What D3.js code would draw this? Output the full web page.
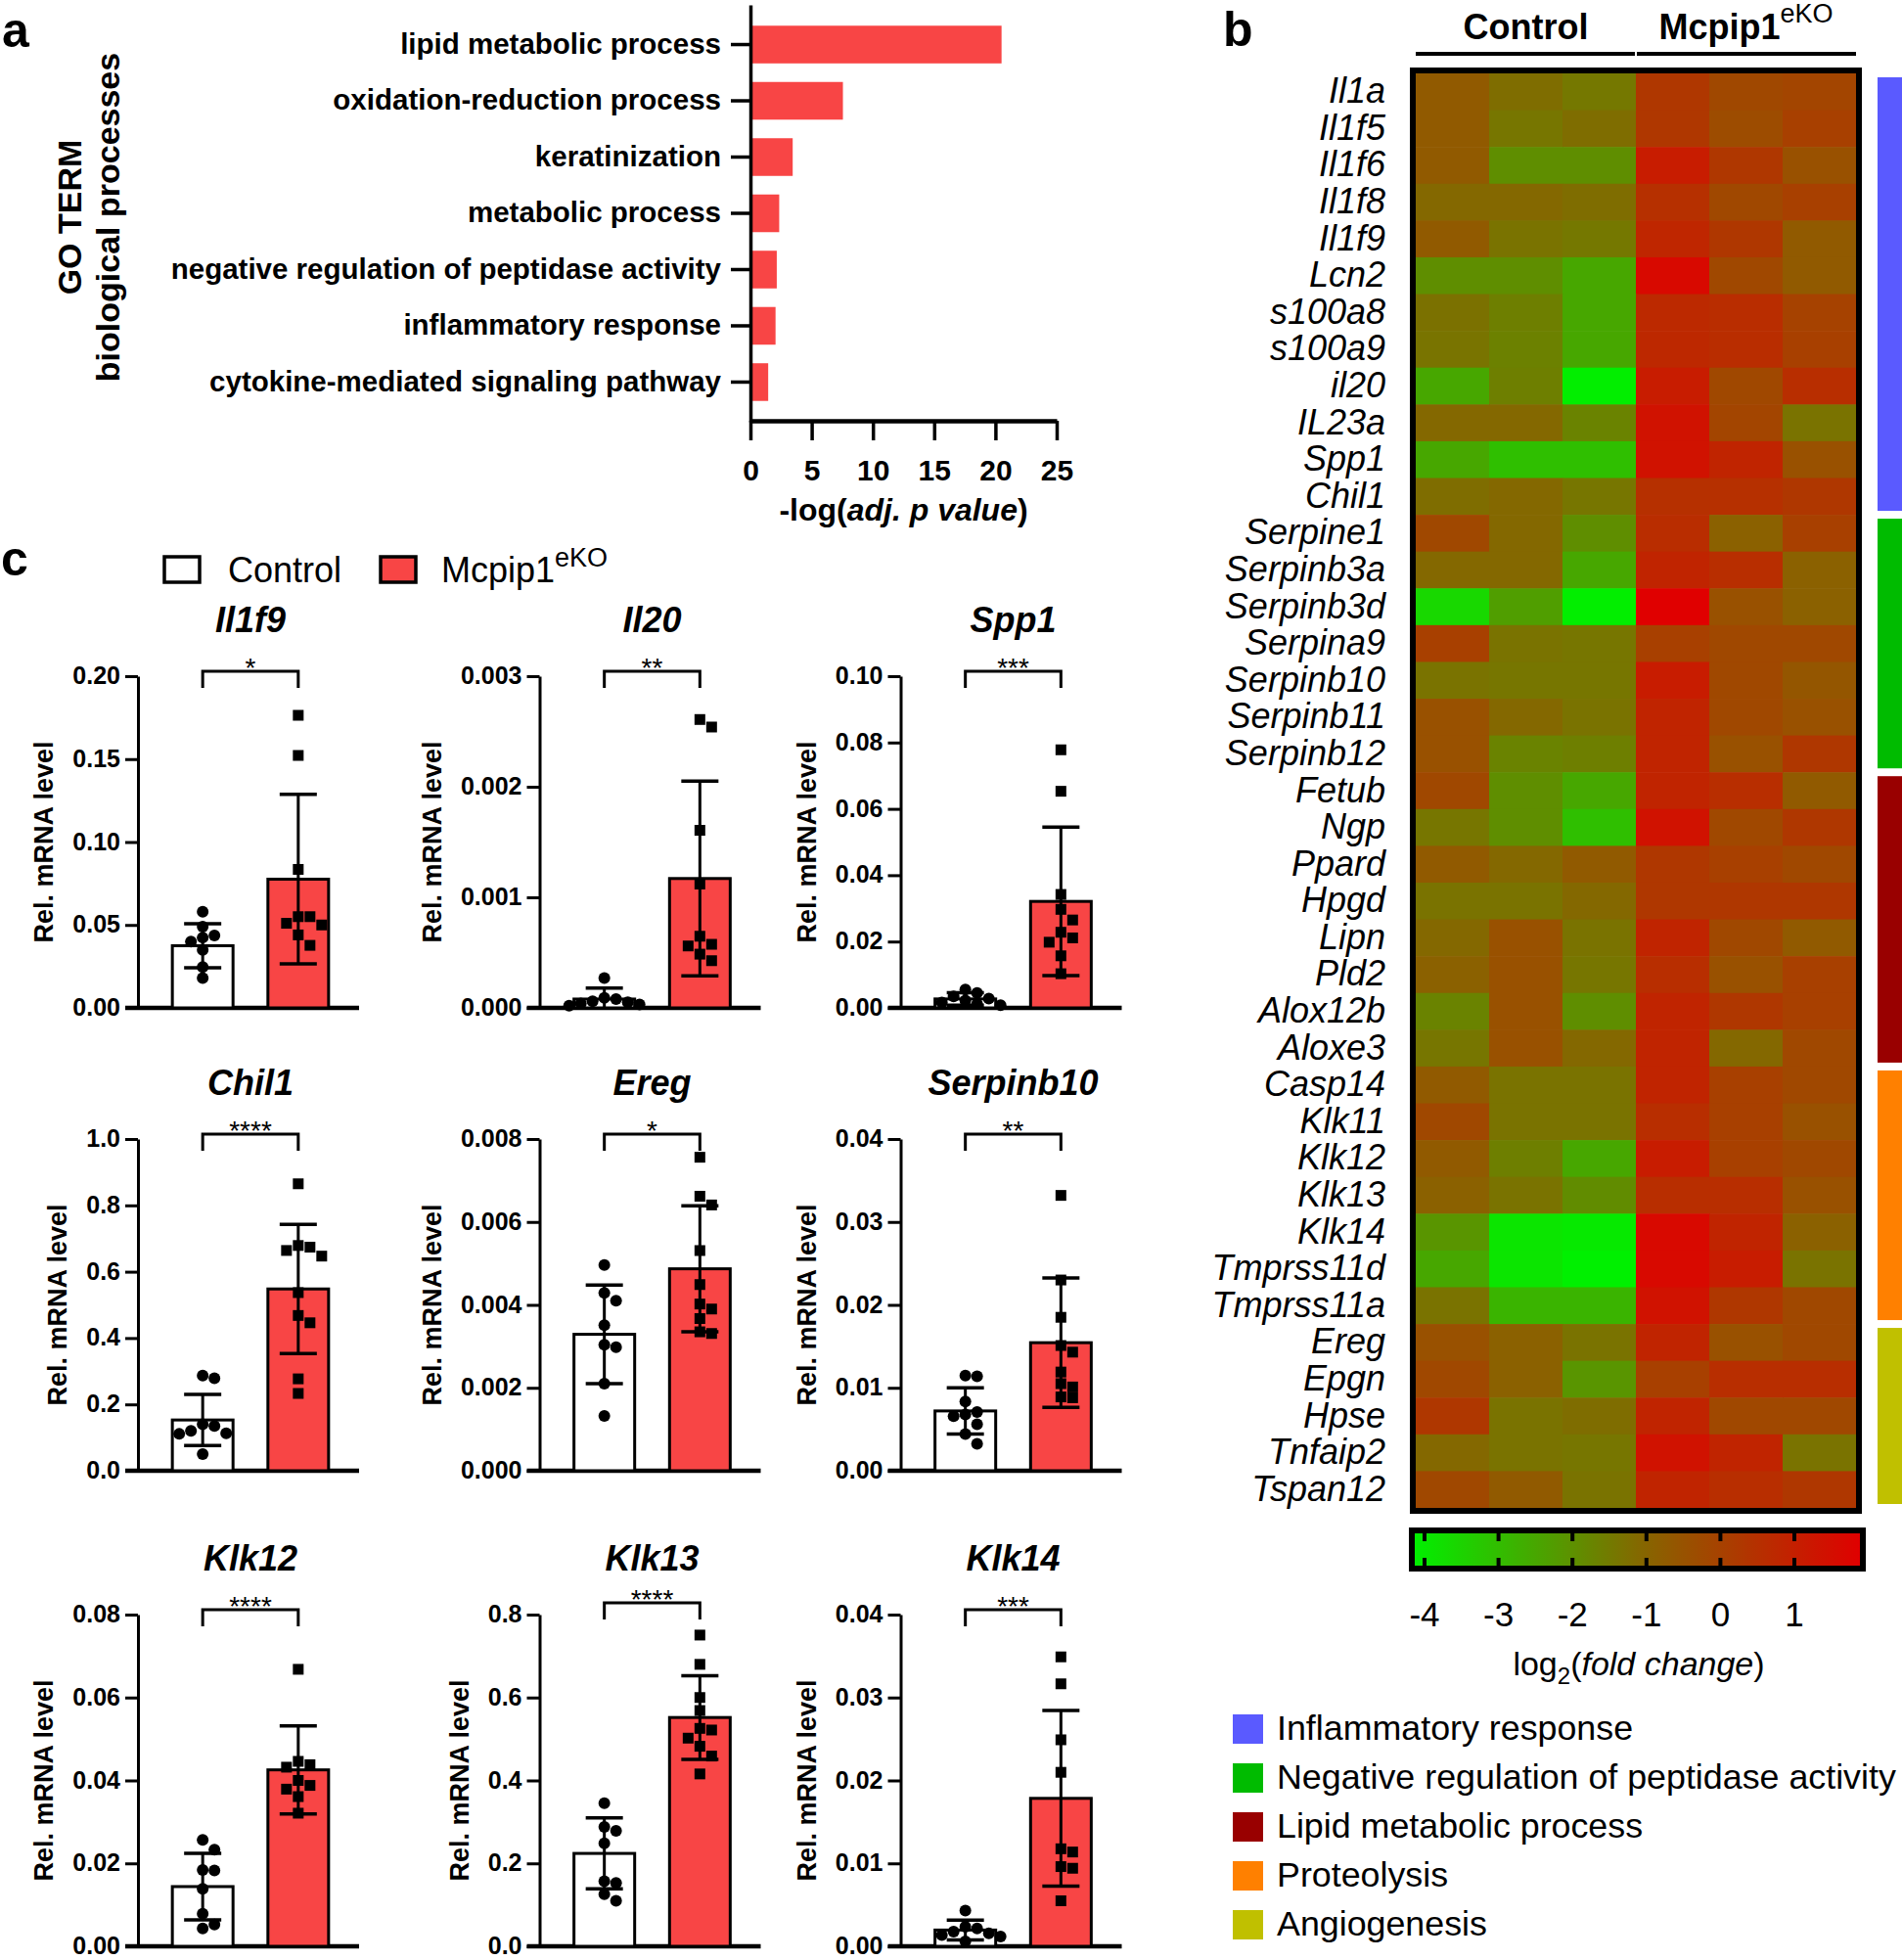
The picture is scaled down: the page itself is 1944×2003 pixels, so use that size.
<!DOCTYPE html>
<meta charset="utf-8">
<style>
    body { margin: 0; background: #fff; }
    svg { display: block; font-family: "Liberation Sans", Arial, sans-serif; }
</style>
<svg width="1944" height="2003"></svg>
<script src="https://d3js.org/d3.v7.min.js"></script>
<script>

// ---------- data: panel a (GO terms) ----------
var goTerms = ["lipid metabolic process", "oxidation-reduction process", "keratinization",
    "metabolic process", "negative regulation of peptidase activity",
    "inflammatory response", "cytokine-mediated signaling pathway"];
var goLogP = [20.5, 7.55, 3.45, 2.35, 2.15, 2.05, 1.45];
var goTicks = [0, 5, 10, 15, 20, 25];

// ---------- data: panel b (heatmap, log2 fold change) ----------
var heatGenes = ["Il1a", "Il1f5", "Il1f6", "Il1f8", "Il1f9", "Lcn2", "s100a8", "s100a9", "il20", "IL23a",
    "Spp1", "Chil1", "Serpine1", "Serpinb3a", "Serpinb3d", "Serpina9", "Serpinb10", "Serpinb11",
    "Serpinb12", "Fetub", "Ngp", "Ppard", "Hpgd", "Lipn", "Pld2", "Alox12b", "Aloxe3", "Casp14",
    "Klk11", "Klk12", "Klk13", "Klk14", "Tmprss11d", "Tmprss11a", "Ereg", "Epgn", "Hpse", "Tnfaip2", "Tspan12"];
var heatValues = [
    [-0.7, -1.2, -1.45, 0.3, -0.2, -0.1],
    [-0.7, -1.4, -1.2, 0.3, -0.3, 0.05],
    [-0.7, -1.95, -1.95, 1.1, 0.3, -0.45],
    [-1.1, -1.1, -1.2, 0.5, -0.2, 0.05],
    [-0.7, -1.33, -1.45, 0.8, 0.3, -0.7],
    [-1.95, -1.95, -2.5, 1.64, -0.2, -0.7],
    [-1.3, -1.6, -2.5, 0.7, 0.6, 0.0],
    [-1.35, -1.65, -2.5, 0.75, 0.6, 0.05],
    [-2.5, -1.6, -4.1, 1.1, -0.2, 0.58],
    [-1.1, -1.1, -1.7, 1.37, -0.1, -1.33],
    [-2.5, -3.05, -3.05, 1.37, 0.85, -0.45],
    [-1.2, -1.1, -1.4, 0.5, 0.5, 0.3],
    [-0.2, -1.1, -1.95, 0.6, -0.9, 0.05],
    [-1.1, -1.1, -2.5, 0.85, 0.58, -0.9],
    [-3.6, -2.3, -4.1, 1.9, -0.45, -0.9],
    [0.05, -1.33, -1.4, 0.05, -0.2, -0.2],
    [-1.33, -1.4, -1.4, 1.1, -0.2, -0.6],
    [-0.45, -1.1, -1.33, 0.85, -0.2, -0.45],
    [-0.45, -1.7, -1.6, 0.85, -0.45, 0.3],
    [-0.2, -1.95, -2.5, 0.85, 0.58, -0.7],
    [-1.4, -1.95, -3.05, 1.37, -0.2, 0.3],
    [-0.7, -1.1, -0.7, 0.3, 0.05, -0.2],
    [-1.33, -1.33, -1.1, 0.3, 0.3, 0.3],
    [-1.1, -0.45, -1.33, 0.85, -0.2, -0.7],
    [-0.9, -0.45, -1.4, 0.58, -0.45, 0.05],
    [-1.7, -0.45, -1.95, 0.85, 0.3, 0.05],
    [-1.4, -0.45, -1.1, 0.85, -1.1, -0.2],
    [-0.7, -1.33, -1.33, 0.85, 0.05, -0.2],
    [-0.2, -1.33, -1.33, 0.58, 0.05, -0.45],
    [-0.7, -1.6, -2.5, 1.1, 0.05, -0.2],
    [-0.9, -1.33, -1.9, 0.58, 0.58, -0.45],
    [-2.1, -3.9, -4.0, 1.64, 0.85, -0.9],
    [-2.5, -3.9, -4.15, 1.64, 1.1, -1.33],
    [-1.33, -2.8, -2.8, 1.37, 0.3, -0.2],
    [-0.45, -0.9, -1.33, 0.85, -0.45, -0.2],
    [-0.2, -0.9, -2.1, 0.05, 0.58, 0.58],
    [0.3, -1.33, -1.2, 0.85, -0.2, -0.2],
    [-1.1, -1.33, -1.4, 1.37, 0.85, -1.33],
    [-0.2, -0.7, -1.33, 0.85, 0.58, 0.3]
];
var groupNames = ["Inflammatory response", "Negative regulation of peptidase activity",
    "Lipid metabolic process", "Proteolysis", "Angiogenesis"];
var groupSizes = [12, 7, 8, 7, 5];
var foldTicks = [-4, -3, -2, -1, 0, 1];

// ---------- data: panel c (qPCR) ----------
var qGenes = ["Il1f9", "Il20", "Spp1", "Chil1", "Ereg", "Serpinb10", "Klk12", "Klk13", "Klk14"];
var qMax = [0.20, 0.003, 0.10, 1.0, 0.008, 0.04, 0.08, 0.8, 0.04];
var qStep = [0.05, 0.001, 0.02, 0.2, 0.002, 0.01, 0.02, 0.2, 0.01];
var qDigits = [2, 3, 2, 1, 3, 2, 2, 1, 2];
var qStars = ["*", "**", "***", "****", "*", "**", "****", "****", "***"];
var ctrlMean = [0.0375, 0.00008, 0.0027, 0.153, 0.00329, 0.00721, 0.0144, 0.224, 0.00196];
var ctrlSD = [0.0133, 0.0001, 0.0019, 0.077, 0.00119, 0.00278, 0.008, 0.0855, 0.0012];
var koMean = [0.0776, 0.00117, 0.0321, 0.548, 0.00487, 0.01544, 0.04255, 0.5518, 0.01784];
var koSD = [0.0511, 0.00088, 0.0224, 0.1947, 0.00152, 0.0078, 0.01063, 0.1008, 0.01059];
var ctrlPts = [
    [0.058, 0.049, 0.0436, 0.0424, 0.040, 0.035, 0.0246, 0.018],
    [0.00027, 0.00009, 0.00008, 0.00006, 0.00005, 0.00004, 0.00003, 0.00002],
    [0.0055, 0.0045, 0.0035, 0.0028, 0.0022, 0.0016, 0.0012, 0.0008],
    [0.287, 0.279, 0.140, 0.135, 0.120, 0.113, 0.111, 0.050],
    [0.00496, 0.00429, 0.0041, 0.00351, 0.00304, 0.00298, 0.0021, 0.00132],
    [0.01148, 0.0114, 0.00834, 0.00709, 0.00678, 0.00658, 0.0056, 0.00443, 0.00325],
    [0.02565, 0.0233, 0.01843, 0.01827, 0.01388, 0.00784, 0.00525, 0.00431],
    [0.345, 0.2878, 0.2784, 0.2486, 0.1569, 0.1529, 0.1255, 0.1098],
    [0.00431, 0.00235, 0.00216, 0.00176, 0.00157, 0.00137, 0.00118, 0.00059]
];
var koPts = [
    [0.1764, 0.1522, 0.0835, 0.055, 0.055, 0.051, 0.050, 0.044, 0.0377],
    [0.002608, 0.00254, 0.001606, 0.00112, 0.000648, 0.000575, 0.00056, 0.000486, 0.000427],
    [0.0778, 0.0653, 0.0342, 0.0297, 0.0265, 0.0228, 0.0211, 0.0198, 0.0157, 0.0103],
    [0.865, 0.679, 0.674, 0.664, 0.647, 0.537, 0.468, 0.446, 0.277, 0.233],
    [0.00756, 0.00662, 0.00641, 0.00531, 0.00449, 0.00402, 0.0039, 0.00367, 0.00335, 0.00331],
    [0.0332, 0.023, 0.0185, 0.0151, 0.0143, 0.0119, 0.0105, 0.0101, 0.0089, 0.0088],
    [0.0668, 0.0446, 0.0438, 0.0432, 0.04, 0.0388, 0.0379, 0.0361, 0.0321],
    [0.7506, 0.68, 0.6, 0.5686, 0.5255, 0.5216, 0.502, 0.4824, 0.4588, 0.4157],
    [0.0349, 0.03165, 0.0249, 0.02098, 0.01176, 0.01137, 0.00961, 0.00941, 0.00549]
];

// ---------- styles ----------
var RED = "#f84545";
var groupColors = ["#5a5aff", "#00bb00", "#990000", "#ff8000", "#c0c000"];

var svg = d3.select("svg");

// panel letters
svg.append("text").attr("x", 2).attr("y", 48).attr("font-size", 50).attr("font-weight", "bold").text("a");
svg.append("text").attr("x", 1250).attr("y", 47).attr("font-size", 50).attr("font-weight", "bold").text("b");
svg.append("text").attr("x", 1).attr("y", 588).attr("font-size", 50).attr("font-weight", "bold").text("c");

// ================= panel a =================
var ax = d3.scaleLinear().domain([0, 25]).range([767, 1080]);
var ay = d3.scaleBand().domain(goTerms).range([5, 431]).paddingInner(0.33).paddingOuter(0.37);

svg.selectAll(".gobar")
    .data(goTerms)
    .enter().append("rect")
    .attr("class", "gobar")
    .attr("x", ax(0))
    .attr("y", function (d) { return ay(d); })
    .attr("width", function (d, i) { return ax(goLogP[i]) - ax(0); })
    .attr("height", ay.bandwidth())
    .attr("fill", RED);

var gay = svg.append("g")
    .attr("transform", "translate(" + ax(0) + ",0)")
    .call(d3.axisLeft(ay).tickSize(20).tickSizeOuter(0).tickPadding(10));
gay.attr("font-family", null).attr("font-size", 29.5).attr("font-weight", "bold");
gay.selectAll("path, line").attr("stroke", "#000").attr("stroke-width", 3.5);

var gax = svg.append("g")
    .attr("transform", "translate(0,430)")
    .call(d3.axisBottom(ax).tickValues(goTicks).tickSize(20).tickSizeOuter(0));
gax.attr("font-family", null).attr("font-size", 30).attr("font-weight", "bold");
gax.select(".domain").attr("stroke-width", 4.5);
gax.selectAll(".tick line").attr("stroke-width", 3.5);
gax.selectAll(".tick text").attr("y", 61).attr("dy", null);

var axTitle = svg.append("text")
    .attr("x", (ax.range()[0] + ax.range()[1]) / 2)
    .attr("y", 532)
    .attr("text-anchor", "middle")
    .attr("font-size", 32)
    .attr("font-weight", "bold");
axTitle.append("tspan").text("-log(");
axTitle.append("tspan").attr("font-style", "italic").text("adj. p value");
axTitle.append("tspan").text(")");

svg.append("text")
    .attr("transform", "translate(83,222) rotate(-90)")
    .attr("text-anchor", "middle").attr("font-size", 34).attr("font-weight", "bold")
    .text("GO TERM");
svg.append("text")
    .attr("transform", "translate(122,222) rotate(-90)")
    .attr("text-anchor", "middle").attr("font-size", 34).attr("font-weight", "bold")
    .text("biological processes");

// ================= panel b =================
var hx = d3.scaleBand().domain(d3.range(6)).range([1447, 1897]);
var hy = d3.scaleBand().domain(heatGenes).range([75, 1541]);
var heatColor = d3.scaleLinear()
    .domain([-4.15, -1, 1.9])
    .range(["#00f000", "#886400", "#e00000"])
    .clamp(true);

var rows = svg.selectAll(".hrow")
    .data(heatValues)
    .enter().append("g")
    .attr("class", "hrow")
    .attr("transform", function (d, i) { return "translate(0," + hy(heatGenes[i]) + ")"; });

rows.selectAll("rect")
    .data(function (d) { return d; })
    .enter().append("rect")
    .attr("x", function (d, j) { return hx(j); })
    .attr("width", hx.bandwidth() + 0.6)
    .attr("height", hy.bandwidth() + 0.6)
    .attr("fill", function (d) { return heatColor(d); });

svg.selectAll(".hlabel")
    .data(heatGenes)
    .enter().append("text")
    .attr("class", "hlabel")
    .attr("x", 1416)
    .attr("y", function (d) { return hy(d) + hy.bandwidth() / 2 + 11.5; })
    .attr("text-anchor", "end")
    .attr("font-size", 36)
    .attr("font-style", "italic")
    .text(function (d) { return d; });

// box round the heatmap
svg.append("rect")
    .attr("x", hx.range()[0] - 3).attr("y", hy.range()[0] - 3)
    .attr("width", hx.range()[1] - hx.range()[0] + 6)
    .attr("height", hy.range()[1] - hy.range()[0] + 6)
    .attr("fill", "none").attr("stroke", "#000").attr("stroke-width", 6);

// group headers
svg.append("line").attr("x1", hx(0)).attr("x2", hx(3) - 1).attr("y1", 55).attr("y2", 55)
    .attr("stroke", "#000").attr("stroke-width", 4);
svg.append("line").attr("x1", hx(3) + 1).attr("x2", hx.range()[1]).attr("y1", 55).attr("y2", 55)
    .attr("stroke", "#000").attr("stroke-width", 4);
svg.append("text").attr("x", (hx(0) + hx(3)) / 2).attr("y", 40)
    .attr("text-anchor", "middle").attr("font-size", 36).attr("font-weight", "bold").text("Control");
var koHead = svg.append("text").attr("x", (hx(3) + hx.range()[1]) / 2).attr("y", 40)
    .attr("text-anchor", "middle").attr("font-size", 36).attr("font-weight", "bold");
koHead.append("tspan").text("Mcpip1");
koHead.append("tspan").attr("font-size", 27).attr("font-weight", "normal").attr("dy", -17).text("eKO");

// category bars on the right
var start = 0;
groupSizes.forEach(function (n, k) {
    var y0 = hy(heatGenes[start]) + 4;
    var y1 = hy(heatGenes[start + n - 1]) + hy.bandwidth() - 4;
    svg.append("rect").attr("x", 1919).attr("y", y0).attr("width", 25).attr("height", y1 - y0)
        .attr("fill", groupColors[k]);
    start += n;
});

// colour bar
var cbx = d3.scaleLinear().domain([-4, 1]).range([1456, 1834]);
var cbLeft = 1446, cbRight = 1901, cbTop = 1567, cbBottom = 1600;
var grad = svg.append("defs").append("linearGradient").attr("id", "fcgrad")
    .attr("x1", "0").attr("x2", "1").attr("y1", "0").attr("y2", "0");
d3.range(0, 1.0001, 0.05).forEach(function (t) {
    grad.append("stop").attr("offset", t)
        .attr("stop-color", heatColor(cbx.invert(cbLeft + t * (cbRight - cbLeft))));
});
svg.append("rect").attr("x", cbLeft).attr("y", cbTop)
    .attr("width", cbRight - cbLeft).attr("height", cbBottom - cbTop)
    .attr("fill", "url(#fcgrad)");
svg.append("rect").attr("x", cbLeft - 3).attr("y", cbTop - 3)
    .attr("width", cbRight - cbLeft + 6).attr("height", cbBottom - cbTop + 6)
    .attr("fill", "none").attr("stroke", "#000").attr("stroke-width", 6);
foldTicks.forEach(function (v) {
    svg.append("line").attr("x1", cbx(v)).attr("x2", cbx(v)).attr("y1", cbTop).attr("y2", cbTop + 8)
        .attr("stroke", "#000").attr("stroke-width", 4);
    svg.append("line").attr("x1", cbx(v)).attr("x2", cbx(v)).attr("y1", cbBottom - 8).attr("y2", cbBottom)
        .attr("stroke", "#000").attr("stroke-width", 4);
});
svg.selectAll(".cblabel")
    .data(foldTicks)
    .enter().append("text")
    .attr("class", "cblabel")
    .attr("x", function (d) { return cbx(d); })
    .attr("y", 1662)
    .attr("text-anchor", "middle")
    .attr("font-size", 35)
    .text(function (d) { return String(d); });
var cbTitle = svg.append("text").attr("x", 1675).attr("y", 1712)
    .attr("text-anchor", "middle").attr("font-size", 34);
cbTitle.append("tspan").text("log");
cbTitle.append("tspan").attr("font-size", 24).attr("dy", 9).text("2");
cbTitle.append("tspan").attr("dy", -9).text("(");
cbTitle.append("tspan").attr("font-style", "italic").text("fold change");
cbTitle.append("tspan").text(")");

// legend of categories
groupNames.forEach(function (name, k) {
    var y = 1752 + k * 50;
    svg.append("rect").attr("x", 1260).attr("y", y).attr("width", 31).attr("height", 30)
        .attr("fill", groupColors[k]);
    svg.append("text").attr("x", 1305).attr("y", y + 26).attr("font-size", 35.8).text(name);
});

// ================= panel c =================
// legend
svg.append("rect").attr("x", 168).attr("y", 569).attr("width", 36).attr("height", 26)
    .attr("fill", "#fff").attr("stroke", "#000").attr("stroke-width", 3.5);
svg.append("text").attr("x", 233).attr("y", 595).attr("font-size", 36).text("Control");
svg.append("rect").attr("x", 389).attr("y", 569).attr("width", 36).attr("height", 26)
    .attr("fill", RED).attr("stroke", "#000").attr("stroke-width", 3.5);
var koLeg = svg.append("text").attr("x", 451).attr("y", 595).attr("font-size", 36);
koLeg.append("tspan").text("Mcpip1");
koLeg.append("tspan").attr("font-size", 27).attr("dy", -16).text("eKO");

var colX = [141, 551.5, 920.5];
var rowTop = [691, 1164, 1650];
var plotH = 339;
var bracketLift = [5, 5, 5, 5, 5, 5, 5, 12, 5];

function swarm(vals, y, cx) {
    var placed = [];
    vals.slice().sort(d3.descending).forEach(function (v) {
        var py = y(v), off = 0;
        for (var k = 0; k < 20; k++) {
            off = (k % 2 ? 1 : -1) * Math.ceil(k / 2) * 12;
            var hit = placed.some(function (p) {
                return Math.abs(p.y - py) < 11 && Math.abs(p.x - (cx + off)) < 11;
            });
            if (!hit) break;
        }
        placed.push({ x: cx + off, y: py });
    });
    return placed;
}

qGenes.forEach(function (gene, i) {
    var ox = colX[i % 3];
    var top = rowTop[Math.floor(i / 3)];
    var bottom = top + plotH;
    var g = svg.append("g").attr("transform", "translate(" + ox + ",0)");

    var y = d3.scaleLinear().domain([0, qMax[i]]).range([bottom, top]);
    var x = d3.scaleBand().domain(["Control", "KO"]).range([0, 230]).paddingInner(0.365).paddingOuter(0.36);
    var ticks = d3.range(0, qMax[i] + qStep[i] / 2, qStep[i]);

    var yAx = g.append("g").call(d3.axisLeft(y).tickValues(ticks)
        .tickFormat(d3.format("." + qDigits[i] + "f"))
        .tickSize(13).tickSizeOuter(0).tickPadding(5));
    yAx.attr("font-family", null).attr("font-size", 25).attr("font-weight", "bold");
    yAx.selectAll("path, line").attr("stroke-width", 3);
    yAx.selectAll(".tick text").attr("dy", "0.3em");

    // x axis line
    g.append("line").attr("x1", -13).attr("x2", 226).attr("y1", bottom).attr("y2", bottom)
        .attr("stroke", "#000").attr("stroke-width", 4.5);

    // y title, placed left of the widest tick label
    var maxW = d3.max(yAx.selectAll(".tick text").nodes(), function (n) { return n.getComputedTextLength(); });
    g.append("text")
        .attr("transform", "translate(" + (-18 - maxW - 20) + "," + (top + bottom) / 2 + ") rotate(-90)")
        .attr("text-anchor", "middle").attr("font-size", 27).attr("font-weight", "bold")
        .text("Rel. mRNA level");

    // title
    var mid = (x("Control") + x("KO") + x.bandwidth()) / 2;
    g.append("text").attr("x", mid).attr("y", top - 45)
        .attr("text-anchor", "middle").attr("font-size", 36)
        .attr("font-weight", "bold").attr("font-style", "italic")
        .text(gene);

    // bars
    var groups = [
        { key: "Control", mean: ctrlMean[i], sd: ctrlSD[i], pts: ctrlPts[i], fill: "#fff" },
        { key: "KO", mean: koMean[i], sd: koSD[i], pts: koPts[i], fill: RED }
    ];
    g.selectAll(".qbar")
        .data(groups)
        .enter().append("rect")
        .attr("class", "qbar")
        .attr("x", function (d) { return x(d.key); })
        .attr("y", function (d) { return y(d.mean); })
        .attr("width", x.bandwidth())
        .attr("height", function (d) { return bottom - y(d.mean); })
        .attr("fill", function (d) { return d.fill; })
        .attr("stroke", "#000").attr("stroke-width", 3);

    groups.forEach(function (d) {
        var cx = x(d.key) + x.bandwidth() / 2;
        var pts = swarm(d.pts, y, cx);
        if (d.key === "Control") {
            g.selectAll(null).data(pts).enter().append("circle")
                .attr("cx", function (p) { return p.x; })
                .attr("cy", function (p) { return p.y; })
                .attr("r", 6).attr("fill", "#000");
        } else {
            g.selectAll(null).data(pts).enter().append("rect")
                .attr("x", function (p) { return p.x - 5.5; })
                .attr("y", function (p) { return p.y - 5.5; })
                .attr("width", 11).attr("height", 11).attr("fill", "#000");
        }
        // error bar (mean +/- SD)
        var yHi = y(d.mean + d.sd), yLo = y(Math.max(0, d.mean - d.sd));
        g.append("line").attr("x1", cx).attr("x2", cx).attr("y1", yHi).attr("y2", yLo)
            .attr("stroke", "#000").attr("stroke-width", 3);
        g.append("line").attr("x1", cx - 19).attr("x2", cx + 19).attr("y1", yHi).attr("y2", yHi)
            .attr("stroke", "#000").attr("stroke-width", 3.5);
        if (d.mean - d.sd > 0) {
            g.append("line").attr("x1", cx - 19).attr("x2", cx + 19).attr("y1", yLo).attr("y2", yLo)
                .attr("stroke", "#000").attr("stroke-width", 3.5);
        }
    });

    // significance bracket
    var c1 = x("Control") + x.bandwidth() / 2, c2 = x("KO") + x.bandwidth() / 2;
    var yb = top - bracketLift[i];
    g.append("path")
        .attr("d", "M" + c1 + "," + (yb + 17) + "V" + yb + "H" + c2 + "V" + (yb + 17))
        .attr("fill", "none").attr("stroke", "#000").attr("stroke-width", 3);
    g.append("text").attr("x", (c1 + c2) / 2).attr("y", yb + 6)
        .attr("text-anchor", "middle").attr("font-size", 28)
        .text(qStars[i]);
});

</script>
